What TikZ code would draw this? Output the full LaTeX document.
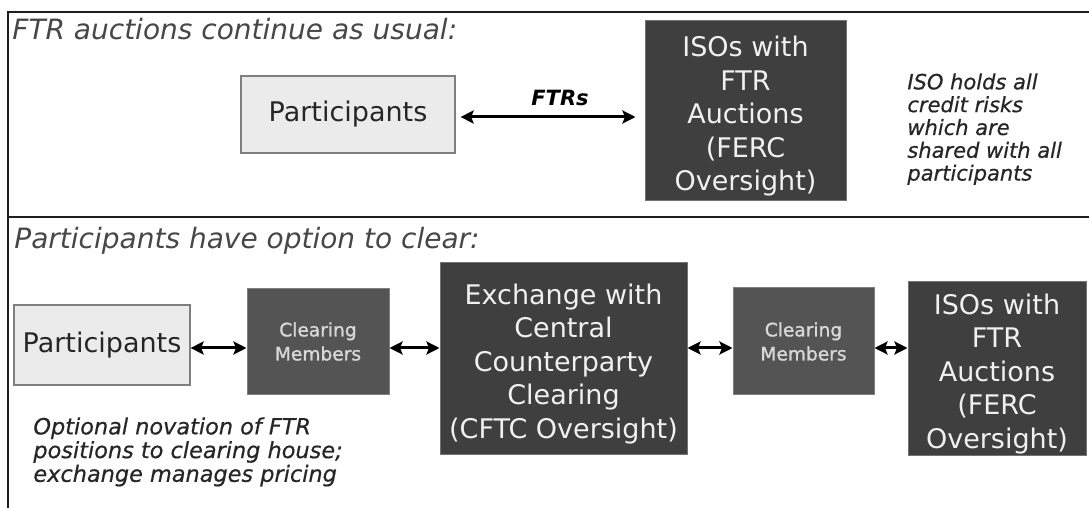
\documentclass[tikz,border=0pt]{standalone}
\usepackage{fontspec}
\setmainfont{DejaVu Sans}
\newfontfamily\heavyfont[FakeBold=1.2]{DejaVu Sans}
\newfontfamily\notefont[FakeBold=0.6]{DejaVu Sans}
\usetikzlibrary{arrows.meta, positioning}

\definecolor{framegray}{HTML}{1E1E1E}
\definecolor{paleface}{HTML}{EBEBEB}
\definecolor{paleedge}{HTML}{7F7F7F}
\definecolor{darkface}{HTML}{3F3F3F}
\definecolor{memberface}{HTML}{545454}
\definecolor{boxtext}{HTML}{F0F0F0}
\definecolor{inktext}{HTML}{262626}

% top strut, drops the text a little inside the dark boxes
\newcommand{\boxlead}{\rule{0pt}{15.5pt}}

\tikzstyle{lightbox} = [rectangle, draw=paleedge, line width=0.6pt, fill=paleface, inner sep=0pt, text=inktext, font=\fontsize{13.5pt}{16pt}\selectfont]
\tikzstyle{darkbox} = [rectangle, fill=darkface, draw=black!55, line width=0.5pt, inner sep=0pt, align=center, text=boxtext, font=\fontsize{13.5pt}{16.75pt}\selectfont]
\tikzstyle{memberbox} = [rectangle, fill=memberface, draw=black!50, line width=0.5pt, inner sep=0pt, align=center, text=boxtext!90!black, font=\heavyfont\fontsize{9.3pt}{12pt}\selectfont]
\tikzstyle{link} = [line width=1.5pt,<->,>={Stealth[length=6.5pt,width=6.5pt,inset=1.2pt]}]
\tikzstyle{heading} = [anchor=base west, inner sep=0pt, text=inktext!85!white, font=\itshape\fontsize{14pt}{16pt}\selectfont]
\tikzstyle{note} = [anchor=north west, inner sep=0pt, align=left, text=inktext, font=\notefont\itshape\fontsize{10.5pt}{11.4pt}\selectfont]
\tikzstyle{frame} = [line width=1.25pt, draw=framegray]

\begin{document}
\begin{tikzpicture}[x=0.5pt, y=-0.5pt]
\useasboundingbox (0,0) rectangle (1089,508);

% Frame
\draw[frame] (8,508) -- (8,12) -- (1089,12);
\draw[frame] (8,217) -- (1089,217);

% Auctions as usual
\node (headtop) [heading] at (12,40) {FTR auctions continue as usual:};
\node (parttop) [lightbox, minimum width=107pt, minimum height=38.5pt] at (348,114.5) {Participants};
\node (isotop) [darkbox, minimum width=100.5pt, minimum height=90pt] at (745.5,111) {\boxlead ISOs with\\FTR\\Auctions\\(FERC\\Oversight)};
\node (risknote) [note] at (907,73) {ISO holds all\\credit risks\\which are\\shared with all\\participants};

% Option to clear
\node (headbot) [heading] at (14,249) {Participants have option to clear:};
\node (partbot) [lightbox, minimum width=88pt, minimum height=40pt] at (102,345) {Participants};
\node (memberleft) [memberbox, minimum width=71pt, minimum height=53pt] at (318,341.5) {Clearing\\Members};
\node (exchange) [darkbox, minimum width=123.5pt, minimum height=96pt] at (563.5,358.5) {\boxlead Exchange with\\Central\\Counterparty\\Clearing\\(CFTC Oversight)};
\node (memberright) [memberbox, minimum width=70.5pt, minimum height=53.5pt] at (803.5,341.5) {Clearing\\Members};
\node (isobot) [darkbox, minimum width=89pt, minimum height=87pt] at (997,368.5) {\boxlead ISOs with\\FTR\\Auctions\\(FERC\\Oversight)};
\node (novnote) [note, font=\notefont\itshape\fontsize{11.2pt}{10.75pt}\selectfont] at (33,417) {Optional novation of FTR\\positions to clearing house;\\exchange manages pricing};

% Arrows
\coordinate (toprow) at (0,117);
\coordinate (botrow) at (0,348);
\draw [link, shorten <=2.5pt, shorten >=4.5pt] (parttop.east |- toprow) -- node (ftrs) [above=1.5pt, xshift=5pt, font=\bfseries\itshape\fontsize{10.5pt}{12pt}\selectfont] {FTRs} (isotop.west |- toprow);
\draw [link] (partbot.east |- botrow) -- (memberleft.west |- botrow);
\draw [link] (memberleft.east |- botrow) -- (exchange.west |- botrow);
\draw [link] (exchange.east |- botrow) -- (memberright.west |- botrow);
\draw [link] (memberright.east |- botrow) -- (isobot.west |- botrow);

\end{tikzpicture}
\end{document}
